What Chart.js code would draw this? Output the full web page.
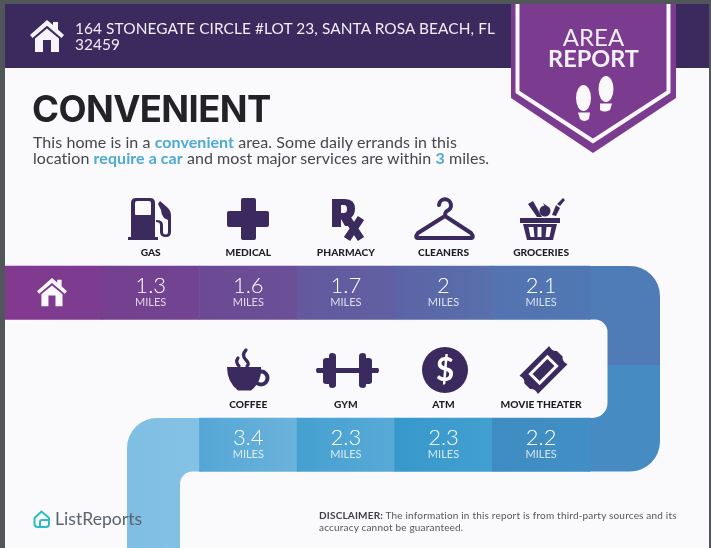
<!DOCTYPE html>
<html>
<head>
<meta charset="utf-8">
<title>Area report</title>
<script src="https://cdn.jsdelivr.net/npm/chart.js@4"></script>
<style>
html,body{margin:0;padding:0;background:#fafafc}
#page{position:relative;width:711px;height:548px;overflow:hidden;background:#fafafc;font-family:Lato,'Open Sans',sans-serif}
#page>*{position:absolute}
canvas{left:0;top:0;z-index:1}
#art{left:0;top:0;z-index:2}
.t{z-index:3;white-space:nowrap}
.frame{background:#50565a;z-index:4}
#band{left:5px;top:4px;width:704px;height:64px;background:#3b2a5e;z-index:0}
#addr{left:75px;top:21px;color:#f1eef6;font-size:15.4px;line-height:15.5px;letter-spacing:.1px}
#title{left:32px;top:87px;color:#232226;font:700 36.5px/44px Inter,sans-serif;letter-spacing:-.6px}
#blurb{left:33px;top:134px;color:#46464c;font-size:16px;line-height:16px;letter-spacing:.06px}
#blurb b{color:#4ea9d3;font-weight:700}
#area{left:511px;width:165px;top:25px;text-align:center;color:#f4eef6;font-size:24px;line-height:24px}
#area b{display:block;font-weight:700;font-size:23.5px;margin-top:-3px}
#logo{left:55px;top:508px;color:#59646e;font-size:17.6px;line-height:22px}
#disc{left:319px;top:509px;color:#55555b;font-size:10px;line-height:12px;letter-spacing:.19px}
#disc b{color:#3f3f46}
</style>
</head>
<body>
<div id="page">
  <div id="band"></div>
  <canvas id="road" width="711" height="548"></canvas>
  <svg id="art" width="711" height="548" viewBox="0 0 711 548">
    <defs>
      <g id="house">
        <path d="M17 0 L23 5 V2 H28 V9.5 L34 15 L31.5 18 L17 5.8 L2.5 18 L0 15 Z"/>
        <path d="M5 18.5 L17 8.5 L29 18.5 V32 H21 V20 H13 V32 H5 Z"/>
      </g>
    </defs>
    <!-- badge -->
    <polygon points="511,0 676,0 676,98 593,153 511,98" fill="#7b3b8e"/>
    <polyline points="517.5,0 517.5,92 593,141 668.5,92 668.5,0" fill="none" stroke="#fbf8fc" stroke-width="4"/>
    <g fill="#fbf8fc">
      <ellipse cx="583.5" cy="98" rx="7.5" ry="13"/>
      <path d="M578 112.5 H590 L589 119 Q584 123 580 119 Z"/>
      <ellipse cx="606" cy="89" rx="7.5" ry="13"/>
      <path d="M600 103.5 H612 L610 110 Q604 113 600 110 Z"/>
    </g>
    <use href="#house" x="30" y="20" fill="#f7f5fa"/>
    <use href="#house" transform="translate(37 278) scale(.88)" fill="#fbf8fc"/>
    <g fill="#3b2a5e" stroke="none">
      <!-- gas -->
      <path fill-rule="evenodd" d="M131 203 Q131 198 136 198 H150 Q155 198 155 203 V237 H158 V240 H128 V237 H131 Z M135 203 V214 Q135 215 136 215 H150 Q151 215 151 214 V203 Q151 201 149 201 H137 Q135 201 135 203 Z"/>
      <path d="M160 201 L168 208 Q171 211 171 216 V232 Q171 237 166 237 Q160 237 160 232 V225 Q160 222 156 222 V220 Q163 220 163 225 V232 Q163 234.500 165.500 234.500 Q168 234.500 168 232 V220 L164 218 Q161 214 161 210 L158 204 Z"/>
      <!-- medical -->
      <path d="M243 198 H254 Q256 198 256 200 V211 H267 Q269 211 269 213 V225 Q269 227 267 227 H256 V238 Q256 240 254 240 H243 Q241 240 241 238 V227 H229 Q227 227 227 225 V213 Q227 211 229 211 H241 V200 Q241 198 243 198 Z"/>
      <!-- rx -->
      <path fill-rule="evenodd" d="M332 199 H345 Q355 199 355 209 Q355 216 349 219 L353 226 H345 L341 219 V227 H332 Z M341 205 V213 H344 Q347 213 347 209 Q347 205 344 205 Z"/>
      <!-- groceries -->
      <path d="M520 218 H560 V223 H520 Z"/>
      <path fill-rule="evenodd" d="M523 224 H557 L553 240 H527 Z M528.500 227 L530.500 237 H534.500 L533.500 227 Z M537.500 227 V237 H541.500 V227 Z M546.500 227 L545.500 237 H549.500 L551.500 227 Z"/>
      <path d="M528 204 L533 201 L542 217 H537 Z"/>
      <circle cx="545" cy="211" r="5.500"/>
      <path d="M543 203 L547 206 L545 207 Z"/>
      <path d="M552 215 L556 205 L560 208 L556 216 Z"/>
      <path d="M557 204 L563 198 L565 200 L560 206 Z"/>
      <!-- coffee -->
      <path d="M227 367 H261 Q262 382 251 390.500 H238 Q227 382 227 367 Z"/>
      <!-- gym -->
      <path d="M317 368 H378 Q380 370 378 373 H317 Q315 370 317 368 Z"/>
      <path d="M323 361 Q323 358 326 358 H329 V384 H326 Q323 384 323 381 Z"/>
      <path d="M329 356 Q329 353 332 353 Q336 353 336 356 V385 Q336 388 332 388 Q329 388 329 385 Z"/>
      <path d="M372 361 Q372 358 369 358 H366 V384 H369 Q372 384 372 381 Z"/>
      <path d="M366 356 Q366 353 363 353 Q359 353 359 356 V385 Q359 388 363 388 Q366 388 366 385 Z"/>
      <!-- atm -->
      <circle cx="445" cy="370" r="23"/>
    </g>
    <g fill="none" stroke="#3b2a5e">
      <path stroke-width="7.500" d="M347 218 L361 239 M361 218 L347 239"/>
      <path stroke-width="4" stroke-linejoin="round" stroke-linecap="round" d="M439 205 A6 6 0 1 1 447 211 Q445 212 445 216 L471 233 Q475 238 470 238 H419 Q414 238 418 233 L445 216"/>
      <circle cx="261" cy="378" r="6.500" stroke-width="4"/>
      <path stroke-width="3.200" stroke-linecap="round" d="M246 350 Q241 355 246 360 Q250 364 247 366 M238 358 Q235 362 239 366"/>
    </g>
    <text x="445" y="381" text-anchor="middle" font-family="Lato" font-weight="700" font-size="32" fill="#fff">$</text>
    <!-- ticket -->
    <g transform="translate(543.5 370) rotate(-45)">
      <path fill="#3b2a5e" d="M-21 -13 H21 Q19 -7 23 -4 V4 Q19 7 21 13 H-21 Q-19 7 -23 4 V-4 Q-19 -7 -21 -13 Z"/>
      <rect x="-12" y="-6.500" width="24" height="13" fill="none" stroke="#fafafc" stroke-width="3"/>
    </g>
    <!-- logo -->
    <path d="M34.500 518 L41.500 511.500 L49 518 V524 Q49 527 46 527 H38 Q34.500 527 34.500 524 Z M40 527 V522 Q40 520 42 520 H49" fill="none" stroke="#2cbcc6" stroke-width="2"/>
  </svg>
  <div class="frame" style="left:0;top:0;width:711px;height:4px"></div>
  <div class="frame" style="left:0;top:0;width:5px;height:548px"></div>
  <div class="frame" style="left:709px;top:0;width:2px;height:548px"></div>
  <div class="t" id="addr">164 STONEGATE CIRCLE #LOT 23, SANTA ROSA BEACH, FL<br>32459</div>
  <div class="t" id="title">CONVENIENT</div>
  <div class="t" id="blurb">This home is in a <b>convenient</b> area. Some daily errands in this<br>location <b>require a car</b> and most major services are within <b>3</b> miles.</div>
  <div class="t" id="area">AREA<b>REPORT</b></div>
  <div class="t" id="logo">ListReports</div>
  <div class="t" id="disc"><b>DISCLAIMER:</b> The information in this report is from third-party sources and its<br>accuracy cannot be guaranteed.</div>
</div>
<script>
const columns=['Home','Stop 1','Stop 2','Stop 3','Stop 4','Stop 5','Turn'];
const topStops=['GAS','MEDICAL','PHARMACY','CLEANERS','GROCERIES'];
const topMiles=[1.3,1.6,1.7,2,2.1];
const bottomStops=['COFFEE','GYM','ATM','MOVIE THEATER'];
const bottomMiles=[3.4,2.3,2.3,2.2];

// left and right colour of each cell
const topFills=[['#82398f','#7c3c8f'],['#753f8e','#714592'],['#6c4a93','#6a5097'],['#64589e','#6060a2'],['#5c63a6','#5870ab'],['#5473b0','#5078b4']];
const bottomFills=[['#55a6d5','#6ab3dc'],['#45a0d0','#58aad6'],['#3798cb','#42a0d0'],['#3f8cc3','#428fc5']];

const topRow=[266,319.5],bottomRow=[418,471.5];
const INK='#ffffff';

function cellFill(fills){
  return c=>{
    const p=fills[c.dataIndex];
    if(!p)return '#000';
    const sx=c.chart.scales.x,w=sx.width/columns.length;
    const x=sx.getPixelForValue(c.parsed?c.parsed.x:0);
    if(!Number.isFinite(x)||!Number.isFinite(w))return p[0];
    const g=c.chart.ctx.createLinearGradient(x-w/2,0,x+w/2,0);
    g.addColorStop(0,p[0]);g.addColorStop(1,p[1]);
    return g;
  };
}

// the bends of the road sit under the cells
const roadBends={
  id:'roadBends',
  beforeDatasetsDraw(chart){
    const ctx=chart.ctx;
    ctx.save();
    ctx.fillStyle='#4f7cb6';
    ctx.beginPath();ctx.moveTo(588,266);ctx.lineTo(630,266);ctx.arcTo(660,266,660,296,30);ctx.lineTo(660,365);ctx.lineTo(607.5,365);ctx.lineTo(607.5,332);ctx.arcTo(607.5,319.5,595,319.5,12.5);ctx.lineTo(588,319.5);ctx.closePath();ctx.fill();
    ctx.fillStyle='#468bc2';
    ctx.beginPath();ctx.moveTo(607.5,365);ctx.lineTo(660,365);ctx.lineTo(660,442);ctx.arcTo(660,471.5,630,471.5,30);ctx.lineTo(588,471.5);ctx.lineTo(588,418);ctx.lineTo(592,418);ctx.arcTo(607.5,418,607.5,403,15);ctx.closePath();ctx.fill();
    const g=ctx.createLinearGradient(127,0,201,0);
    g.addColorStop(0,'#7fbfe3');g.addColorStop(1,'#84c1e5');
    ctx.fillStyle=g;
    ctx.beginPath();ctx.moveTo(202,418);ctx.lineTo(157,418);ctx.arcTo(127,418,127,448,30);ctx.lineTo(127,548);ctx.lineTo(180,548);ctx.lineTo(180,484);ctx.arcTo(180,471.5,192.5,471.5,12.5);ctx.lineTo(202,471.5);ctx.closePath();ctx.fill();
    ctx.restore();
  }
};

// miles inside the cells, stop names above them
const stopLabels={
  id:'stopLabels',
  afterDatasetsDraw(chart){
    const ctx=chart.ctx;
    ctx.save();
    ctx.textAlign='center';ctx.textBaseline='alphabetic';
    chart.data.datasets.forEach((ds,d)=>{
      const meta=chart.getDatasetMeta(d);
      ds.data.forEach((p,i)=>{
        if(p.miles===undefined)return;
        const x=meta.data[i].x,top=Math.min(p.y[0],p.y[1]);
        ctx.fillStyle=INK;ctx.font='300 22px Lato';
        ctx.fillText(String(p.miles),x,top+27);
        ctx.fillStyle='rgba(255,255,255,.78)';ctx.font='400 11px Lato';
        ctx.fillText('MILES',x,top+40);
        ctx.fillStyle='#1f1e24';ctx.font='900 10.2px Lato';
        ctx.fillText(p.stop,x,top-10);
      });
    });
    ctx.restore();
  }
};

new Chart(document.getElementById('road'),{
  type:'bar',
  data:{
    labels:columns,
    datasets:[
      {data:[{x:'Home',y:topRow}].concat(topMiles.map((m,i)=>({x:columns[i+1],y:topRow,miles:m,stop:topStops[i]}))),backgroundColor:cellFill(topFills)},
      {data:bottomMiles.map((m,i)=>({x:columns[i+2],y:bottomRow,miles:m,stop:bottomStops[i]})),backgroundColor:cellFill(bottomFills)}
    ]
  },
  options:{
    responsive:false,
    animation:false,
    layout:{padding:{left:4.3,right:23.5,top:0,bottom:0}},
    datasets:{bar:{grouped:false,barPercentage:1,categoryPercentage:1,borderWidth:0,borderSkipped:false}},
    plugins:{legend:{display:false},tooltip:{enabled:false}},
    scales:{
      x:{display:false},
      y:{display:false,reverse:true,min:0,max:548}
    }
  },
  plugins:[roadBends,stopLabels]
});
</script>
</body>
</html>
